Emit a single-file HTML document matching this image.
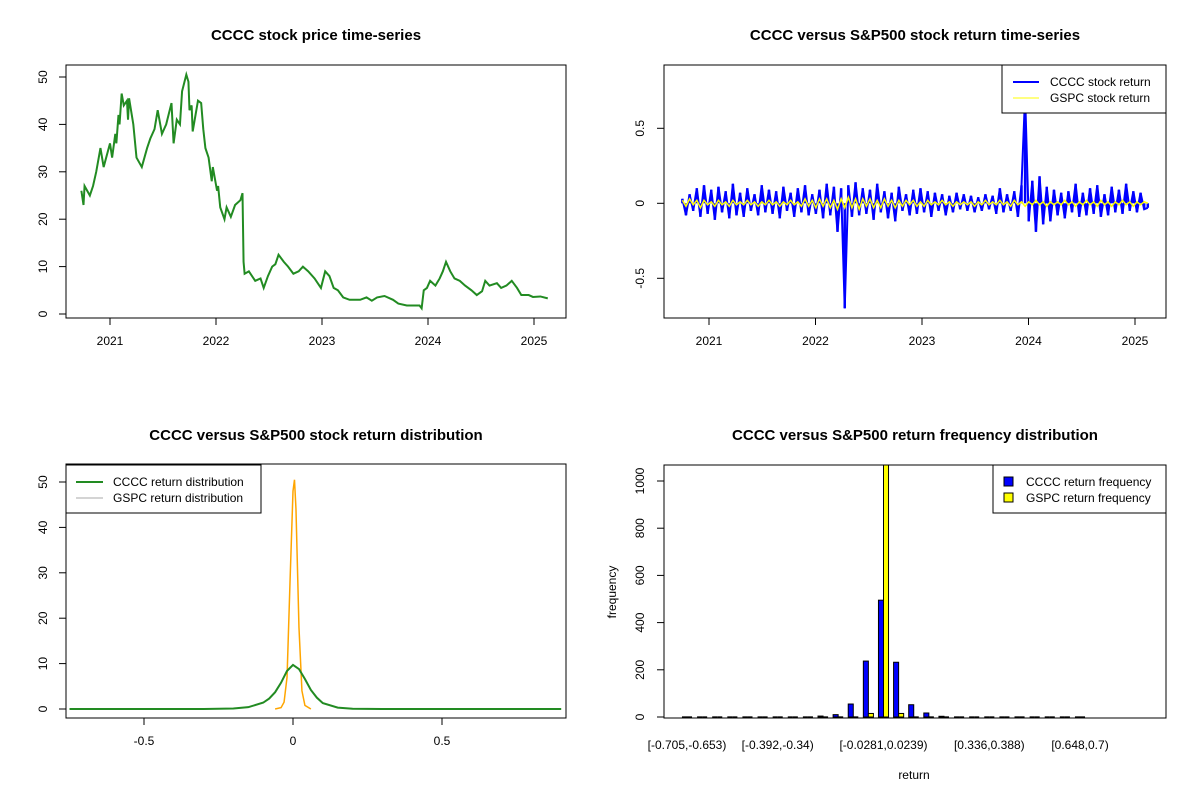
<!DOCTYPE html>
<html><head><meta charset="utf-8"><style>
body{margin:0;background:#fff;}
svg{display:block;font-family:"Liberation Sans",Arial,sans-serif;}
</style></head><body>
<svg id="root" width="1200" height="800" viewBox="0 0 1200 800"></svg>
<script>
// ---------- data ----------
const priceDates=[2020.73,2020.75,2020.76,2020.81,2020.84,2020.87,2020.91,2020.94,2021.0,2021.02,2021.05,2021.06,2021.08,2021.09,2021.11,2021.13,2021.16,2021.17,2021.18,2021.22,2021.25,2021.30,2021.35,2021.38,2021.42,2021.45,2021.49,2021.53,2021.58,2021.60,2021.63,2021.66,2021.68,2021.72,2021.74,2021.75,2021.77,2021.78,2021.83,2021.86,2021.88,2021.90,2021.93,2021.96,2021.97,2022.01,2022.02,2022.04,2022.08,2022.10,2022.14,2022.18,2022.23,2022.25,2022.26,2022.27,2022.31,2022.37,2022.42,2022.45,2022.49,2022.53,2022.56,2022.59,2022.64,2022.68,2022.73,2022.78,2022.82,2022.87,2022.93,2022.99,2023.03,2023.07,2023.11,2023.15,2023.20,2023.26,2023.36,2023.42,2023.47,2023.52,2023.59,2023.67,2023.72,2023.80,2023.88,2023.92,2023.94,2023.96,2023.99,2024.02,2024.07,2024.11,2024.14,2024.17,2024.21,2024.25,2024.30,2024.35,2024.41,2024.46,2024.51,2024.54,2024.58,2024.65,2024.69,2024.74,2024.79,2024.84,2024.88,2024.95,2024.99,2025.06,2025.13];
const priceValues=[26,23,27,25,27,30,35,31,36,33,38,36,42,40,46.5,44,45,41,45.5,40,33,31,35,37,39,43,38,40,44.5,36,41,40,47,50.5,49,43,44,38.5,45,44.5,39,35,33,28,31,26,27,22.5,20,22.5,20.5,23,24,25.5,11,8.5,9,7,7.5,5.5,8,10,10.5,12.5,11,10,8.5,9,10,9,7.5,5.5,9,8,5.5,5,3.5,3,3,3.5,2.8,3.5,3.8,3,2.2,1.8,1.8,1.8,1.2,5,5.5,7,6,7.5,9,11,9,7.5,7,6,5,4,4.8,7,6,6.5,5.5,6,7,5.5,4,4,3.6,3.7,3.3];
const priceYTicks=[0,10,20,30,40,50];
const yearTicks=[2021,2022,2023,2024,2025];
const retStart=2020.75, retEnd=2025.12;
const ccccReturns=[0.03,-0.08,0.06,-0.05,0.10,-0.09,0.12,-0.07,0.09,-0.11,0.11,-0.06,0.08,-0.10,0.13,-0.08,0.07,-0.09,0.10,-0.05,
0.06,-0.08,0.12,-0.06,0.09,-0.07,0.08,-0.10,0.11,-0.05,0.07,-0.09,0.10,-0.06,0.12,-0.08,0.06,-0.07,0.09,-0.10,
0.13,-0.08,0.11,-0.19,0.10,-0.70,0.12,-0.09,0.14,-0.08,0.10,-0.07,0.09,-0.11,0.13,-0.06,0.08,-0.10,0.07,-0.12,
0.11,-0.05,0.06,-0.08,0.09,-0.07,0.10,-0.06,0.08,-0.09,0.07,-0.05,0.06,-0.08,0.05,-0.06,0.07,-0.04,0.06,-0.05,
0.05,-0.06,0.04,-0.05,0.06,-0.04,0.05,-0.07,0.10,-0.06,0.06,-0.05,0.08,-0.09,0.12,0.72,-0.12,0.15,-0.19,0.18,
-0.14,0.11,-0.12,0.09,-0.08,0.07,-0.10,0.08,-0.06,0.13,-0.09,0.07,-0.08,0.10,-0.07,0.12,-0.09,0.06,-0.08,0.11,
-0.06,0.09,-0.07,0.13,-0.05,0.08,-0.06,0.07,-0.04,-0.03];
const gspcReturns=[0.02,-0.02,0.03,-0.01,0.02,-0.03,0.02,-0.01,0.01,-0.02,0.02,-0.01,0.01,-0.02,0.02,-0.01,0.01,-0.01,0.02,-0.01,
0.01,-0.02,0.01,-0.01,0.02,-0.01,0.01,-0.02,0.01,-0.01,0.02,-0.01,0.01,-0.02,0.03,-0.02,0.02,-0.03,0.03,-0.02,
0.03,-0.03,0.02,-0.04,0.03,-0.03,0.04,-0.03,0.03,-0.04,0.03,-0.02,0.03,-0.03,0.02,-0.03,0.03,-0.02,0.02,-0.03,
0.02,-0.02,0.02,-0.01,0.02,-0.02,0.01,-0.02,0.02,-0.01,0.01,-0.01,0.02,-0.01,0.01,-0.02,0.01,-0.01,0.01,-0.01,
0.01,-0.02,0.01,-0.01,0.02,-0.01,0.01,-0.01,0.02,-0.01,0.01,-0.02,0.02,-0.01,0.01,-0.02,0.01,-0.01,0.02,-0.01,
0.01,-0.02,0.01,-0.01,0.01,-0.01,0.02,-0.01,0.01,-0.02,0.01,-0.01,0.02,-0.01,0.01,-0.02,0.02,-0.01,0.01,-0.02,
0.01,-0.01,0.02,-0.01,0.01,-0.02,0.01,-0.01,0.01,0.00];
const retYTicks=[-0.5,0,0.5];
const densGridCCCC=[-0.75,-0.3,-0.2,-0.15,-0.1,-0.08,-0.06,-0.04,-0.02,0,0.02,0.04,0.06,0.08,0.1,0.15,0.2,0.3,0.9];
const densCCCC=[0,0,0.1,0.4,1.4,2.3,3.7,5.8,8.4,9.7,8.8,6.6,4.2,2.5,1.3,0.3,0.05,0,0];
const densGridGSPC=[-0.06,-0.04,-0.03,-0.02,-0.01,0,0.005,0.01,0.02,0.03,0.04,0.06];
const densGSPC=[0,0.3,1.5,7,28,48,50.5,44,18,4,0.8,0];
const densXTicks=[-0.5,0,0.5];
const densYTicks=[0,10,20,30,40,50];
const binCount=27;
const binLabels=["[-0.705,-0.653)","[-0.392,-0.34)","[-0.0281,0.0239)","[0.336,0.388)","[0.648,0.7)"];
const binLabelIdx=[0,6,13,20,26];
const freqCCCC=[2,0,0,0,0,0,2,0,0,4,10,55,237,495,232,52,17,3,0,0,0,0,0,0,0,0,2];
const freqGSPC=[0,0,0,0,0,0,0,0,0,0,0,0,15,1100,15,0,0,0,0,0,0,0,0,0,0,0,0];
const freqYTicks=[0,200,400,600,800,1000];

// ---------- helpers ----------
const NS="http://www.w3.org/2000/svg";
const root=document.getElementById('root');
function mk(tag,attrs,parent){const e=document.createElementNS(NS,tag);for(const k in attrs)e.setAttribute(k,attrs[k]);(parent||root).appendChild(e);return e;}
function txt(s,x,y,attrs,parent){const e=mk('text',Object.assign({x:x,y:y,'font-size':12,fill:'#000','text-anchor':'middle'},attrs||{}),parent);e.textContent=s;return e;}
function lin(d0,d1,r0,r1){return v=>r0+(v-d0)/(d1-d0)*(r1-r0);}

function panel(name){
  const g=mk('g',{});
  
  
  return g;
}
function frame(g,b){const r=mk('rect',{x:b.x0,y:b.y0,width:b.x1-b.x0,height:b.y1-b.y0,fill:'none',stroke:'#000','stroke-width':1},g);}
function xAxis(g,b,ticks,sx,labels,ly){
  const ax=mk('g',{},g);
  const xs=ticks.map(sx);
  mk('line',{x1:xs[0],x2:xs[xs.length-1],y1:b.y1,y2:b.y1,stroke:'#000'},ax);
  ticks.forEach((t,i)=>{mk('line',{x1:xs[i],x2:xs[i],y1:b.y1,y2:b.y1+7,stroke:'#000'},ax);
    const l=txt(labels?labels[i]:String(t),xs[i],ly||b.y1+27,{},ax);});
}
function yAxis(g,b,ticks,sy,lx){
  const ax=mk('g',{},g);
  const ys=ticks.map(sy);
  mk('line',{x1:b.x0,x2:b.x0,y1:ys[0],y2:ys[ys.length-1],stroke:'#000'},ax);
  ticks.forEach((t,i)=>{mk('line',{x1:b.x0,x2:b.x0-7,y1:ys[i],y2:ys[i],stroke:'#000'},ax);
    const l=txt(String(t),lx,ys[i],{transform:`rotate(-90 ${lx} ${ys[i]})`},ax);});
}
function title(g,s,x,y){const t=txt(s,x,y,{'font-size':15,'font-weight':'bold'},g);}
function path(g,xs,ys,sx,sy,attrs){let d='';xs.forEach((v,i)=>{d+=(i?'L':'M')+sx(v).toFixed(2)+','+sy(ys[i]).toFixed(2);});return mk('path',Object.assign({d:d,fill:'none'},attrs),g);}

// ---------- panel 1: price ----------
{
  const b={x0:66,x1:566,y0:65,y1:318};
  const g=panel('price-chart');
  const sx=lin(2021,2025,110,534), sy=lin(0,50,314,77);
  const p=path(g,priceDates,priceValues,sx,sy,{stroke:'#228b22','stroke-width':2,'stroke-linejoin':'miter'});
  
  frame(g,b);xAxis(g,b,yearTicks,sx);yAxis(g,b,priceYTicks,sy,47);
  title(g,'CCCC stock price time-series',316,40);
}
// ---------- panel 2: returns ----------
{
  const b={x0:664,x1:1166,y0:65,y1:318};
  const g=panel('returns-chart');
  const sx=lin(2021,2025,709,1135), sy=lin(0,0.5,203.3,128.3);
  const step=(retEnd-retStart)/(ccccReturns.length-1);
  const dates=ccccReturns.map((_,i)=>retStart+i*step);
  const vb=mk('g',{},g);
  ccccReturns.forEach((r,i)=>{mk('line',{x1:sx(dates[i]),x2:sx(dates[i]),y1:sy(0),y2:sy(r),stroke:'#0000ff','stroke-width':2.5},vb);});
  const p1=path(g,dates,ccccReturns,sx,sy,{stroke:'#0000ff','stroke-width':2});
  
  const p2=path(g,dates,gspcReturns,sx,sy,{stroke:'#ffff00','stroke-width':1.5});
  
  frame(g,b);xAxis(g,b,yearTicks,sx);yAxis(g,b,retYTicks,sy,644);
  title(g,'CCCC versus S&P500 stock return time-series',915,40);
  const lg=mk('g',{},g);
  mk('rect',{x:1002,y:65,width:164,height:48,fill:'#fff',stroke:'#000'},lg);
  mk('line',{x1:1013,x2:1039,y1:82,y2:82,stroke:'#0000ff','stroke-width':2},lg);
  mk('line',{x1:1013,x2:1039,y1:98,y2:98,stroke:'#ffff00','stroke-width':1},lg);
  const a=txt('CCCC stock return',1050,86,{'text-anchor':'start'},lg);
  const c=txt('GSPC stock return',1050,102,{'text-anchor':'start'},lg);
}
// ---------- panel 3: density ----------
{
  const b={x0:66,x1:566,y0:464,y1:718};
  const g=panel('density-chart');
  const sx=lin(0,0.5,293,442), sy=lin(0,50,709,482);
  const p2=path(g,densGridGSPC,densGSPC,sx,sy,{stroke:'#ffa500','stroke-width':1.5});
  
  const p1=path(g,densGridCCCC,densCCCC,sx,sy,{stroke:'#228b22','stroke-width':2});
  
  frame(g,b);xAxis(g,b,densXTicks,sx);yAxis(g,b,densYTicks,sy,47);
  title(g,'CCCC versus S&P500 stock return distribution',316,440);
  const lg=mk('g',{},g);
  mk('rect',{x:66,y:465,width:195,height:48,fill:'#fff',stroke:'#000'},lg);
  mk('line',{x1:76,x2:103,y1:482,y2:482,stroke:'#228b22','stroke-width':2},lg);
  mk('line',{x1:76,x2:103,y1:498,y2:498,stroke:'#aaaaaa','stroke-width':1},lg);
  const a=txt('CCCC return distribution',113,486,{'text-anchor':'start'},lg);
  const c=txt('GSPC return distribution',113,502,{'text-anchor':'start'},lg);
}
// ---------- panel 4: histogram ----------
{
  const b={x0:664,x1:1166,y0:465,y1:718};
  const g=panel('frequency-chart');
  const sc=lin(0,binCount-1,687,1080), sy=lin(0,1000,717,481);
  const u=(sc(1)-sc(0))/3;
  const clip=mk('clipPath',{id:'hclip'},g);mk('rect',{x:b.x0,y:b.y0,width:b.x1-b.x0,height:b.y1-b.y0},clip);
  const bars=mk('g',{'clip-path':'url(#hclip)'},g);
  function bar(x,v,color,name){
    const y=sy(v), h=sy(0)-y;
    let e;
    if(h<0.5){e=mk('line',{x1:x,x2:x+u,y1:sy(0),y2:sy(0),stroke:'#000','stroke-width':1.3},bars);}
    else{e=mk('rect',{x:x,y:y,width:u,height:h,fill:color,stroke:'#000','stroke-width':1},bars);}
    
    
  }
  for(let i=0;i<binCount;i++){
    const c=sc(i);
    bar(c-u,freqCCCC[i],'#0000ff','bar-cccc');
    bar(c,freqGSPC[i],'#ffff00','bar-gspc');
  }
  frame(g,b);
  binLabelIdx.forEach((bi,k)=>{const l=txt(binLabels[k],sc(bi),749,{},g);});
  yAxis(g,b,freqYTicks,sy,644);
  const xl=txt('return',914,779,{},g);
  const yl=txt('frequency',616,592,{transform:'rotate(-90 616 592)'},g);
  title(g,'CCCC versus S&P500 return frequency distribution',915,440);
  const lg=mk('g',{},g);
  mk('rect',{x:993,y:465,width:173,height:48,fill:'#fff',stroke:'#000'},lg);
  mk('rect',{x:1004,y:477,width:9,height:9,fill:'#0000ff',stroke:'#000'},lg);
  mk('rect',{x:1004,y:493,width:9,height:9,fill:'#ffff00',stroke:'#000'},lg);
  const a=txt('CCCC return frequency',1026,486,{'text-anchor':'start'},lg);
  const c=txt('GSPC return frequency',1026,502,{'text-anchor':'start'},lg);
}
</script>
</body></html>
